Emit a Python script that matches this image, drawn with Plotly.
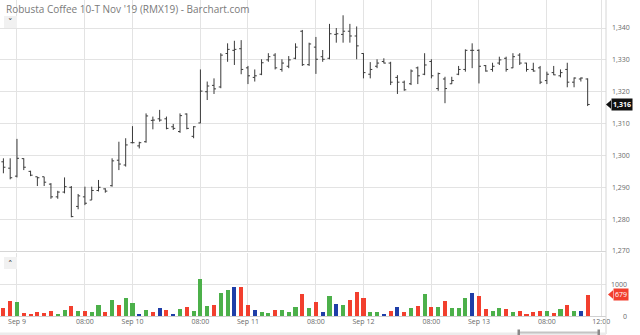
import plotly.graph_objects as go

# ---------------- data ----------------
# 30-minute bars, index 0 = Sep 6 10:30 ... index 86 = Sep 13 11:00
opens = [1298.0, 1296.0, 1293.5, 1299.0, 1295.0, 1293.3, 1293.3, 1291.0, 1287.0, 1288.5,
         1290.0, 1284.0, 1287.0, 1286.0, 1289.0, 1289.5, 1290.5, 1298.5, 1297.0, 1304.0,
         1303.0, 1304.3, 1311.0, 1311.5, 1311.5, 1309.0, 1307.5, 1313.0, 1306.0, 1310.2,
         1320.0, 1322.0, 1321.5, 1332.0, 1333.0, 1333.5, 1327.5, 1324.5, 1325.5, 1330.0,
         1331.5, 1327.0, 1328.0, 1330.5, 1339.0, 1328.5, 1334.0, 1331.0, 1330.5, 1338.0,
         1338.0, 1339.0, 1337.5, 1332.0, 1325.5, 1328.0, 1329.5, 1329.0, 1324.5, 1323.0,
         1322.5, 1327.5, 1325.5, 1329.5, 1321.0, 1324.0, 1322.5, 1325.5, 1327.0, 1333.0,
         1333.0, 1328.2, 1327.0, 1329.0, 1330.5, 1327.5, 1331.5, 1329.0, 1327.0, 1327.5,
         1323.5, 1326.0, 1325.0, 1327.0, 1323.0, 1324.0, 1324.0]
highs = [1299.1, 1299.1, 1305.2, 1299.1, 1295.2, 1293.3, 1293.3, 1291.3, 1288.9, 1293.1,
         1290.4, 1287.9, 1290.2, 1290.2, 1292.3, 1289.7, 1299.1, 1304.3, 1305.4, 1309.2,
         1304.3, 1313.2, 1312.2, 1314.3, 1312.2, 1309.9, 1313.2, 1313.2, 1309.2, 1327.0,
         1323.2, 1324.2, 1332.1, 1335.2, 1336.0, 1336.2, 1328.1, 1327.0, 1330.2, 1332.1,
         1332.1, 1330.2, 1331.2, 1335.2, 1339.4, 1335.4, 1337.2, 1333.1, 1341.3, 1340.0,
         1344.0, 1341.3, 1340.5, 1332.1, 1329.3, 1330.2, 1330.5, 1329.4, 1325.2, 1323.5,
         1327.0, 1327.9, 1332.1, 1330.2, 1326.0, 1324.7, 1324.7, 1328.1, 1333.3, 1335.2,
         1333.3, 1328.4, 1329.1, 1331.0, 1331.0, 1332.1, 1332.1, 1329.1, 1329.1, 1328.1,
         1326.3, 1328.1, 1327.0, 1329.1, 1324.5, 1324.5, 1324.2]
lows = [1294.4, 1292.5, 1293.1, 1295.4, 1293.5, 1290.4, 1290.4, 1286.4, 1286.4, 1288.1,
        1280.6, 1283.1, 1284.4, 1286.0, 1288.7, 1288.3, 1290.2, 1295.4, 1296.5, 1303.8,
        1302.2, 1304.0, 1308.2, 1310.6, 1308.2, 1308.0, 1307.1, 1308.2, 1305.4, 1310.1,
        1317.4, 1319.3, 1321.1, 1329.4, 1328.4, 1325.5, 1322.4, 1323.2, 1325.2, 1329.4,
        1327.0, 1326.3, 1327.4, 1330.2, 1328.1, 1328.1, 1325.6, 1329.4, 1330.2, 1335.4,
        1335.4, 1335.4, 1330.2, 1324.2, 1324.2, 1327.4, 1328.9, 1322.1, 1319.3, 1320.3,
        1322.1, 1322.4, 1325.2, 1324.2, 1320.3, 1316.4, 1322.4, 1325.2, 1326.3, 1327.4,
        1322.6, 1326.3, 1326.3, 1328.4, 1326.3, 1327.4, 1328.4, 1326.3, 1326.3, 1322.4,
        1322.4, 1325.2, 1324.5, 1321.4, 1321.4, 1323.2, 1315.5]
closes = [1296.3, 1293.0, 1299.1, 1296.3, 1293.8, 1293.0, 1291.6, 1287.0, 1288.5, 1290.2,
          1280.8, 1287.3, 1285.0, 1289.0, 1290.0, 1288.8, 1298.3, 1297.3, 1303.3, 1304.0,
          1304.0, 1312.4, 1311.1, 1311.1, 1308.5, 1308.5, 1312.5, 1308.5, 1309.0, 1320.2,
          1321.8, 1320.9, 1331.5, 1333.3, 1333.3, 1327.0, 1325.0, 1325.0, 1329.1, 1331.0,
          1327.5, 1329.0, 1330.0, 1334.0, 1328.5, 1335.0, 1330.2, 1330.2, 1338.2, 1338.2,
          1339.0, 1337.5, 1334.4, 1326.0, 1327.0, 1329.0, 1329.0, 1323.0, 1323.0, 1320.6,
          1326.5, 1325.0, 1328.4, 1325.0, 1325.7, 1321.0, 1323.5, 1327.0, 1333.0, 1333.0,
          1328.0, 1326.5, 1328.0, 1330.0, 1327.0, 1331.0, 1329.0, 1327.0, 1326.5, 1323.0,
          1325.5, 1325.3, 1326.0, 1323.0, 1324.3, 1324.3, 1316.0]
volumes = [264, 476, 455, 106, 53, 137, 95, 159, 63, 180,
           317, 159, 159, 127, 349, 127, 508, 349, 582, 413,
           63, 190, 127, 243, 190, 32, 222, 296, 159, 1175,
           317, 360, 730, 825, 910, 910, 360, 190, 137, 106,
           180, 180, 137, 296, 698, 264, 434, 127, 646, 381,
           349, 508, 772, 561, 138, 138, 53, 159, 275, 138,
           243, 317, 688, 296, 275, 476, 243, 243, 561, 720,
           635, 222, 159, 254, 212, 138, 169, 63, 138, 148,
           148, 106, 212, 349, 169, 169, 679]
vol_dir = ["d", "d", "u", "d", "d", "d", "d", "d", "u", "u",
           "d", "u", "d", "u", "u", "d", "u", "d", "u", "u",
           "f", "u", "d", "f", "d", "f", "u", "d", "u", "u",
           "u", "d", "u", "u", "f", "d", "d", "f", "u", "u",
           "d", "u", "u", "u", "d", "u", "d", "f", "u", "f",
           "u", "d", "d", "d", "u", "u", "f", "d", "f", "d",
           "u", "d", "u", "d", "u", "d", "u", "u", "u", "f",
           "d", "d", "u", "u", "d", "u", "d", "d", "d", "d",
           "u", "d", "u", "d", "u", "f", "d"]
tick_bars = [2, 12, 19, 29, 36, 46, 53, 63, 70, 80, 88]
tick_labels = ["Sep 9", "08:00", "Sep 10", "08:00", "Sep 11", "08:00",
               "Sep 12", "08:00", "Sep 13", "08:00", "12:00"]
price_ticks = [1270, 1280, 1290, 1300, 1310, 1320, 1330, 1340]
vol_ticks = [0, 1000]
title_text = "Robusta Coffee 10-T Nov '19 (RMX19) - Barchart.com"

# ---------------- styling ----------------
FONT = "Open Sans"
GRID = "#e3e3e3"
LBL = "#6a6a6a"
dir_colors = {"u": "#4cb04a", "d": "#f23f2e", "f": "#1f3ea8"}
bar_idx = list(range(len(opens)))

PLOT_W, PLOT_H = 606, 316
def px_x(p):
    return p / PLOT_W
def px_y(p):
    return 1 - p / PLOT_H

fig = go.Figure()
fig.add_trace(go.Ohlc(
    x=bar_idx, open=opens, high=highs, low=lows, close=closes,
    increasing=dict(line=dict(color="#3a3a3a", width=1)),
    decreasing=dict(line=dict(color="#3a3a3a", width=1)),
    tickwidth=0.3, xaxis="x", yaxis="y", hoverinfo="skip"))
fig.add_trace(go.Bar(
    x=bar_idx, y=volumes, width=0.6,
    marker=dict(color=[dir_colors[d] for d in vol_dir], line=dict(width=0)),
    xaxis="x2", yaxis="y2", hoverinfo="skip"))

xr = [-0.5, 88.7]
fig.update_layout(
    width=640, height=335,
    margin=dict(l=0, r=34, t=0, b=19),
    paper_bgcolor="white", plot_bgcolor="white",
    showlegend=False, bargap=0,
    font=dict(family=FONT, size=7, color=LBL),
    xaxis=dict(domain=[0, 1], range=xr, anchor="y", tickvals=tick_bars,
               showticklabels=False, showgrid=True, gridcolor=GRID, gridwidth=1,
               zeroline=False, rangeslider=dict(visible=False), ticks=""),
    yaxis=dict(domain=[px_y(251), 1], range=[1270, 1348.8], side="right",
               tickvals=price_ticks, tickformat=",", showgrid=True, gridcolor=GRID,
               zeroline=False, ticks="", ticklabelstandoff=5,
               tickfont=dict(family=FONT, size=7, color=LBL)),
    xaxis2=dict(domain=[0, 1], range=xr, anchor="y2", tickvals=tick_bars,
                ticktext=tick_labels, showgrid=True, gridcolor=GRID, zeroline=False,
                ticks="", tickfont=dict(family=FONT, size=7, color=LBL)),
    yaxis2=dict(domain=[0, px_y(253)], range=[0, 2000], side="right", anchor="x2",
                tickvals=[1000], showgrid=True, gridcolor=GRID, zeroline=False,
                showticklabels=False),
)

shapes = []
# panel separators / borders
shapes.append(dict(type="line", xref="paper", yref="paper", x0=0, x1=1,
                   y0=px_y(251.5), y1=px_y(251.5), line=dict(color="#d6d6d6", width=1)))
shapes.append(dict(type="line", xref="paper", yref="paper", x0=0, x1=1,
                   y0=px_y(316.5), y1=px_y(316.5), line=dict(color="#d0d0d0", width=1)))
shapes.append(dict(type="line", xref="paper", yref="paper", x0=1, x1=1,
                   y0=px_y(334), y1=1, line=dict(color="#d6d6d6", width=1)))
# navigator strip at the bottom
shapes.append(dict(type="rect", xref="paper", yref="paper", x0=0, x1=1,
                   y0=px_y(335), y1=px_y(332.5), fillcolor="#ececec", line=dict(width=0)))
shapes.append(dict(type="rect", xref="paper", yref="paper", x0=px_x(518), x1=px_x(599),
                   y0=px_y(333.5), y1=px_y(331.5), fillcolor="#c4c4c4", line=dict(width=0)))
for hx in (517.5, 597.5):
    shapes.append(dict(type="rect", xref="paper", yref="paper", x0=px_x(hx), x1=px_x(hx + 2.5),
                       y0=px_y(335), y1=px_y(329.5), fillcolor="#8a8a8a", line=dict(width=0)))
# small collapse buttons
for cy in (22, 263):
    shapes.append(dict(type="rect", xref="paper", yref="paper", x0=px_x(4), x1=px_x(17),
                       y0=px_y(cy + 6), y1=px_y(cy - 6), fillcolor="#f1f1f1", line=dict(width=0)))
# last-price pointer triangles
last_close = closes[-1]
shapes.append(dict(type="path", xref="paper", yref="y",
                   path=f"M {px_x(606)},{last_close} L {px_x(611)},{last_close + 1.35} "
                        f"L {px_x(611)},{last_close - 1.35} Z",
                   fillcolor="#111111", line=dict(width=0)))
last_vol = volumes[-1]
shapes.append(dict(type="path", xref="paper", yref="y2",
                   path=f"M {px_x(608)},{last_vol} L {px_x(613)},{last_vol + 135} "
                        f"L {px_x(613)},{last_vol - 135} Z",
                   fillcolor="#f23f2e", line=dict(width=0)))
fig.update_layout(shapes=shapes)

ann = []
ann.append(dict(text=title_text, xref="paper", yref="paper", x=px_x(4), y=px_y(9),
                xanchor="left", yanchor="middle", showarrow=False,
                font=dict(family=FONT, size=10, color="#7a7a7a")))
ann.append(dict(text="˅", xref="paper", yref="paper", x=px_x(10.5), y=px_y(22),
                xanchor="center", yanchor="middle", showarrow=False,
                font=dict(family="DejaVu Sans", size=9, color="#333")))
ann.append(dict(text="˄", xref="paper", yref="paper", x=px_x(10.5), y=px_y(264),
                xanchor="center", yanchor="middle", showarrow=False,
                font=dict(family="DejaVu Sans", size=9, color="#333")))
ann.append(dict(text=f"<b>{last_close:,.0f}</b>", xref="paper", yref="y", x=px_x(611), y=last_close,
                xanchor="left", yanchor="middle", showarrow=False, bgcolor="#111111",
                borderpad=1, font=dict(family=FONT, size=7, color="white")))
ann.append(dict(text=f"{last_vol}", xref="paper", yref="y2", x=px_x(613), y=last_vol,
                xanchor="left", yanchor="middle", showarrow=False, bgcolor="#f23f2e",
                borderpad=1, font=dict(family=FONT, size=7, color="white")))
for v in vol_ticks:
    ann.append(dict(text=str(v), xref="paper", yref="y2", x=px_x(629), y=v,
                    xanchor="right", yanchor="middle", showarrow=False,
                    font=dict(family=FONT, size=7, color=LBL)))
fig.update_layout(annotations=ann)

fig.write_html("out.html")
